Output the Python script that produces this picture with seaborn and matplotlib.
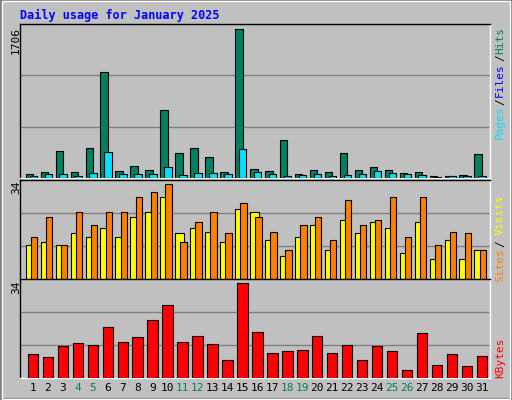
import matplotlib
matplotlib.use("Agg")
import matplotlib.pyplot as plt
import seaborn as sns
import numpy as np
import pandas as pd
from matplotlib.patches import Rectangle

days = list(range(1, 32))
hits = [50,73,305,73,340,1208,85,143,97,780,282,340,235,73,1706,108,85,432,50,97,73,282,97,131,97,62,73,27,27,39,270]
files = [27,50,50,27,62,293,50,50,50,131,39,62,62,50,328,73,50,27,39,50,27,39,50,85,62,50,39,15,27,27,27]
pages = [20,25,25,20,25,30,25,25,25,30,20,25,25,25,30,25,25,15,20,25,20,20,25,25,25,25,20,10,20,20,20]
sites = [12.2,13.3,12.2,16.3,15.2,18.1,15.2,22.2,24,29.2,16.3,18.1,17,13.3,25.1,24,14,8.1,15.2,19.2,10.3,21.1,16.3,20.3,18.1,9.2,20.3,7,14,7,10.3]
visits = [15.2,22.2,12.2,24,19.2,24,24,29.2,31,34,13.3,20.3,24,16.3,27.3,22.2,17,10.3,19.2,22.2,14,28.1,19.2,21.1,29.2,15.2,29.2,12.2,17,16.3,10.3]
kbytes = [8.7,7.6,11.3,12.4,11.7,18.4,12.8,14.6,20.6,26.2,12.8,15,12,6.5,34,16.5,9.1,9.8,10.2,15,9.1,11.7,6.5,11.3,9.8,2.7,16.1,4.6,8.7,4.2,7.9]
weekend = {4,5,11,12,18,19,25,26}

sns.set_style("white")
plt.rcParams['font.family'] = ['DejaVu Sans Mono', 'DejaVu Sans']
BG = "#c0c0c0"
fig = plt.figure(figsize=(5.12, 4.0), dpi=100, facecolor=BG)

# bevel frame
fig.patches.append(Rectangle((0, 0), 1, 1, transform=fig.transFigure, fill=False, edgecolor="#808080", lw=3))
fig.patches.append(Rectangle((0.003, 0.003), 0.994, 0.994, transform=fig.transFigure, fill=False, edgecolor="white", lw=1))

def mk(top, bot):
    ax = fig.add_axes([20/512, 1-bot/400, 470/512, (bot-top)/400])
    ax.set_facecolor(BG)
    ax.set_xlim(0.13, 31.55)
    for s in ax.spines.values():
        s.set_color("white"); s.set_linewidth(1)
    ax.spines["top"].set_color("black"); ax.spines["left"].set_color("black")
    ax.set_xticks([]); ax.set_yticks([])
    return ax

d = np.array(days)
ek = dict(edgecolor="black", linewidth=0.8, zorder=3)

ax1 = mk(24, 178)
top1 = 1706*154/149
ax1.set_ylim(0, top1)
for g in (top1/3, 2*top1/3):
    ax1.axhline(g, color="#808080", lw=1, zorder=1)
ax1.bar(d-0.24, hits, width=0.5, color="#008060", **ek)
ax1.bar(d-0.1, pages, width=0.15, color="#0000ff", **ek)
ax1.bar(d+0.02, files, width=0.5, color="#00e0ff", **ek)

ax2 = mk(180, 279)
top2 = 34*99/95
ax2.set_ylim(0, top2)
for g in (top2/3, 2*top2/3):
    ax2.axhline(g, color="#808080", lw=1, zorder=1)
ax2.bar(d-0.2, sites, width=0.58, color="#ffff00", **ek)
ax2.bar(d+0.07, visits, width=0.43, color="#ff8000", **ek)

ax3 = mk(279, 378)
df = pd.DataFrame({"day": d, "kb": kbytes})
top3 = 34*99/95
sns.barplot(data=df, x="day", y="kb", native_scale=True, width=0.7, color="#ff0000",
            saturation=1, edgecolor="black", linewidth=0.8, ax=ax3, zorder=3)
ax3.set_xlim(0.13, 31.55); ax3.set_ylim(0, top3)
ax3.set_xlabel(""); ax3.set_ylabel("")
ax3.set_xticks([]); ax3.set_yticks([])
for g in (top3/3, 2*top3/3):
    ax3.axhline(g, color="#808080", lw=1, zorder=1)

for i in days:
    ax3.text(i, -0.1, str(i), transform=ax3.get_xaxis_transform(), ha="center", va="center",
             fontsize=8, color="#008060" if i in weekend else "black")

def ft(x, y, s, c, size=8, **kw):
    fig.text(x/512, 1-y/400, s, color=c, fontsize=size, **kw)

ft(20, 15, "Daily usage for January 2025", "#0000ff", size=8.5, fontweight="bold", va="center")
ft(16, 40, "1706", "black", rotation=90, ha="center", va="center")
ft(16, 187, "34", "black", rotation=90, ha="center", va="center")
ft(16, 287, "34", "black", rotation=90, ha="center", va="center")
ft(500, 122, "Pages", "#00e0ff", rotation=90, ha="center", va="center")
ft(500, 102, "/", "#000000", rotation=90, ha="center", va="center")
ft(500, 80, "Files", "#0000ff", rotation=90, ha="center", va="center")
ft(500, 58, "/", "#000000", rotation=90, ha="center", va="center")
ft(500, 40, "Hits", "#008060", rotation=90, ha="center", va="center")
ft(500, 265, "Sites", "#ff8000", rotation=90, ha="center", va="center")
ft(500, 244, "/", "#000000", rotation=90, ha="center", va="center")
ft(500, 215, "Visits", "#ffff00", rotation=90, ha="center", va="center")
ft(500, 358, "KBytes", "#ff0000", rotation=90, ha="center", va="center")

fig.savefig("out.png", dpi=100, facecolor=BG)
